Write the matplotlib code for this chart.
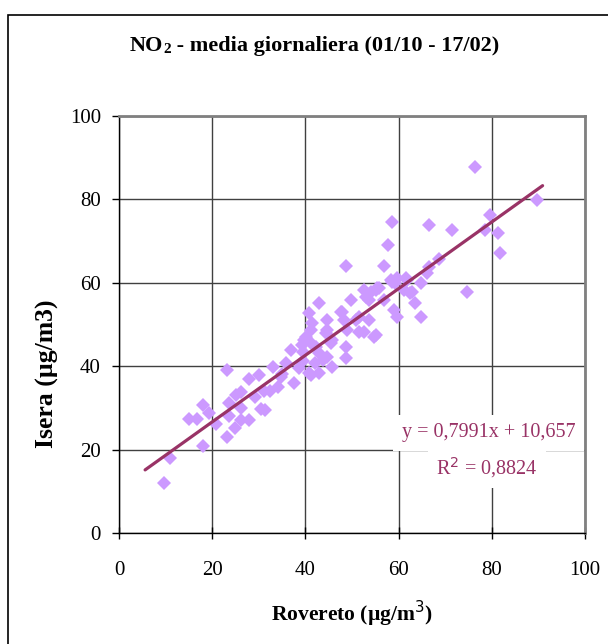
import numpy as np
import matplotlib.pyplot as plt
from matplotlib.patches import Rectangle

# NO2 daily means, Rovereto (x) vs Isera (y), ug/m3
rovereto = [9.6, 11.0, 15.1, 16.8, 18.0, 18.0, 19.4, 20.9, 23.1, 23.1,
            23.7, 24.8, 25.0, 26.1, 26.1, 27.9, 27.8, 29.1, 30.1, 30.5,
            31.4, 31.2, 32.5, 33.1, 34.2, 34.8, 35.0, 35.8, 37.0, 37.6,
            38.7, 39.5, 40.8, 41.1, 41.1, 42.1, 42.2, 43.0, 43.0, 44.4,
            23.7, 26.2, 39.4, 39.7, 41.5, 43.0, 40.8, 43.7, 44.7, 44.7,
            45.8, 45.5, 45.8, 47.6, 48.3, 48.7, 48.7, 49.0, 49.7, 50.8,
            51.5, 51.5, 52.6, 52.6, 53.6, 52.9, 54.7, 55.4, 53.6, 58.3,
            59.0, 59.7, 61.1, 59.3, 48.7, 57.8, 56.8, 55.8, 61.8, 62.9,
            64.7, 63.6, 64.7, 66.5, 68.6, 66.1, 71.4, 47.9, 44.7, 41.2,
            40.1, 58.6, 66.5, 78.6, 74.6, 62.5, 59.7, 61.5, 55.1, 54.0,
            56.8, 81.8, 76.4, 89.6, 79.6, 81.4, 58.6, 55.1, 39.3]
isera = [11.9, 18.1, 27.3, 27.3, 30.7, 20.9, 28.8, 26.1, 23.1, 39.0,
         28.1, 25.2, 33.1, 30.0, 27.1, 27.1, 36.9, 32.6, 37.9, 29.7,
         29.5, 34.1, 34.1, 39.9, 35.0, 37.4, 38.1, 40.7, 43.9, 35.9,
         39.6, 41.3, 38.3, 45.5, 48.7, 40.7, 44.7, 38.3, 43.1, 47.9,
         31.1, 33.9, 43.5, 46.3, 50.3, 55.1, 52.8, 41.5, 51.1, 42.3,
         39.9, 45.5, 46.3, 53.1, 51.1, 44.7, 41.9, 48.7, 55.9, 51.1,
         48.3, 51.9, 58.3, 48.3, 51.1, 56.7, 47.1, 58.7, 55.9, 60.7,
         53.5, 51.9, 58.3, 59.9, 64.0, 69.1, 64.0, 58.7, 60.7, 57.9,
         59.9, 55.2, 51.9, 63.9, 65.7, 62.3, 72.7, 53.1, 48.7, 37.9,
         47.1, 74.7, 73.9, 72.7, 57.9, 57.5, 61.1, 61.1, 47.5, 57.9,
         55.9, 67.1, 87.8, 79.9, 76.3, 71.9, 60.3, 58.3, 45.1]

# linear trend shown on the chart
slope = 0.7991
intercept = 10.657
r2 = 0.8824
trend_x = [5.6, 90.9]

ticks = [0, 20, 40, 60, 80, 100]

plt.rcParams['font.family'] = ['Liberation Serif', 'DejaVu Serif']

W, H = 608, 644
fig = plt.figure(figsize=(W / 100, H / 100), dpi=100)
ax = fig.add_axes([119 / W, 1 - 533 / H, (585 - 119) / W, (533 - 116) / H])

# outer chart frame (runs off the right and bottom edges)
fig.patches.append(Rectangle((8 / W, -0.1), 1.2, 1 - 15 / H + 0.1,
                             transform=fig.transFigure, fill=False,
                             edgecolor='black', linewidth=1.2))

ax.plot(rovereto, isera, ls='none', marker='D', markersize=7,
        markerfacecolor='#cc99ff', markeredgewidth=0, zorder=3)
tx = np.array(trend_x)
ax.plot(tx, slope * tx + intercept, color='#993366', linewidth=2.3,
        solid_capstyle='round', zorder=4)

ax.set_xlim(0, 100)
ax.set_ylim(0, 100)
ax.set_xticks(ticks)
ax.set_yticks(ticks)
ax.grid(True, color='#404040', linewidth=1)
ax.set_axisbelow(True)
ax.tick_params(axis='x', direction='inout', length=8, width=1,
               pad=16, labelsize=15)
ax.tick_params(axis='y', direction='out', length=5, width=1,
               pad=8, labelsize=15)
for s in ['left', 'bottom']:
    ax.spines[s].set_color('black')
    ax.spines[s].set_linewidth(1)
for s in ['top', 'right']:
    ax.spines[s].set_color('#808080')
    ax.spines[s].set_linewidth(2)

ax.set_xlabel('Rovereto (µg/m$^3$)', fontsize=15.5, fontweight='bold',
              labelpad=14)
ax.set_ylabel('Isera (µg/m3)', fontsize=18.5, fontweight='bold',
              va='center')
ax.yaxis.set_label_coords(-(119 - 47) / 466, (533 - 374) / 417)

eq = 'y = %s x + %s' % (str(slope).replace('.', ','),
                         str(intercept).replace('.', ','))
eq = eq.replace(' x', 'x')
ax.text(0.793, 0.24, eq, transform=ax.transAxes, ha='center',
        va='center', fontsize=14.5, color='#993366', zorder=5,
        bbox=dict(facecolor='white', edgecolor='none', pad=6))
ax.text(0.79, 0.158, 'R$^2$ = ' + str(r2).replace('.', ','),
        transform=ax.transAxes, ha='center', va='center', fontsize=14.5,
        color='#993366', zorder=5,
        bbox=dict(facecolor='white', edgecolor='none', pad=6))

# title with small "2"
t1 = fig.text(130 / W, 1 - 56 / H, 'NO', fontsize=16, fontweight='bold',
              va='bottom')
t2 = ax.annotate('2', xy=(1, 0), xycoords=t1, fontsize=11,
                 fontweight='bold', va='bottom')
ax.annotate(' - media giornaliera (01/10 - 17/02)', xy=(1, 0), xycoords=t2,
            fontsize=16, fontweight='bold', va='bottom')

fig.savefig('out.png', dpi=100)
